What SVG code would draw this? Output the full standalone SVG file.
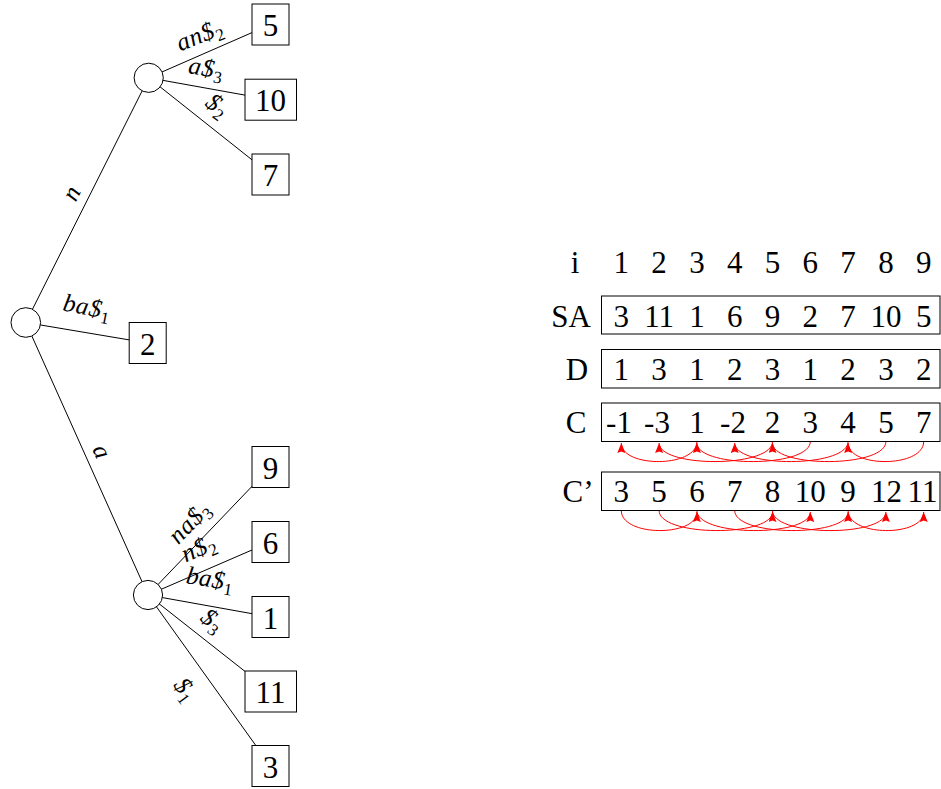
<svg xmlns="http://www.w3.org/2000/svg" width="941" height="789" viewBox="0 0 941 789">
  <style>
    .edge { stroke: #000; stroke-width: 1; fill: none; }
    .node { fill: #fff; stroke: #000; stroke-width: 1; }
    .num { font-family: "Liberation Serif", "Times New Roman", serif; font-size: 31px; text-anchor: middle; fill: #000; }
    .lbl { font-family: "Liberation Serif", "Times New Roman", serif; font-size: 25px; font-style: italic; text-anchor: middle; letter-spacing: 0.5px; fill: #000; }
    .sub { font-size: 17px; font-style: normal; }
    .cell { fill: none; stroke: #000; stroke-width: 1; }
    .link { stroke: #ff0000; stroke-width: 1; fill: none; marker-end: url(#head); }
  </style>
  <defs>
    <marker id="head" viewBox="0 0 10 8" refX="10" refY="4" markerWidth="10" markerHeight="8" markerUnits="userSpaceOnUse" orient="auto">
      <path d="M0,0 L10,4 L0,8 L1.5,4 z" fill="#ff0000"/>
    </marker>
  </defs>

  <!-- tree edges (drawn centre to centre, nodes cover the ends) -->
  <g id="connectors">
    <line class="edge" x1="25.8" y1="322.5" x2="148.7" y2="77.8"/>
    <line class="edge" x1="25.8" y1="322.5" x2="147.7" y2="343"/>
    <line class="edge" x1="25.8" y1="322.5" x2="148" y2="595"/>
    <line class="edge" x1="148.7" y1="77.8" x2="270.5" y2="24.5"/>
    <line class="edge" x1="148.7" y1="77.8" x2="270.5" y2="99.7"/>
    <line class="edge" x1="148.7" y1="77.8" x2="270.5" y2="174.5"/>
    <line class="edge" x1="148" y1="595" x2="270.5" y2="467"/>
    <line class="edge" x1="148" y1="595" x2="270.5" y2="542"/>
    <line class="edge" x1="148" y1="595" x2="270.5" y2="617"/>
    <line class="edge" x1="148" y1="595" x2="270.5" y2="691.5"/>
    <line class="edge" x1="148" y1="595" x2="270.5" y2="766"/>

    <!-- C row links: j -> C[j] -->
    <path class="link" d="M696.9,441.5 C696.9,468 621.3,468 621.3,443"/>
    <path class="link" d="M772.5,441.5 C772.5,468 659.1,468 659.1,443"/>
    <path class="link" d="M810.3,441.5 C810.3,468 696.9,468 696.9,443"/>
    <path class="link" d="M848.1,441.5 C848.1,468 734.7,468 734.7,443"/>
    <path class="link" d="M885.9,441.5 C885.9,468 772.5,468 772.5,443"/>
    <path class="link" d="M923.7,441.5 C923.7,468 848.1,468 848.1,443"/>

    <!-- C' row links: j -> C'[j] -->
    <path class="link" d="M621.3,510.5 C621.3,537 696.9,537 696.9,512"/>
    <path class="link" d="M659.1,510.5 C659.1,537 772.5,537 772.5,512"/>
    <path class="link" d="M696.9,510.5 C696.9,537 810.3,537 810.3,512"/>
    <path class="link" d="M734.7,510.5 C734.7,537 848.1,537 848.1,512"/>
    <path class="link" d="M772.5,510.5 C772.5,537 885.9,537 885.9,512"/>
    <path class="link" d="M848.1,510.5 C848.1,537 923.7,537 923.7,512"/>
  </g>

  <!-- edge labels -->
  <g id="edge-labels">
    <text class="lbl" transform="translate(72.5,193.5) rotate(-63.4)" dy="7">n</text>
    <text class="lbl" transform="translate(87,308) rotate(11)" dy="7">ba$<tspan class="sub" dy="5">1</tspan></text>
    <text class="lbl" transform="translate(101,452) rotate(66)" dy="7">a</text>
    <text class="lbl" transform="translate(200,36) rotate(-22)" dy="7">an$<tspan class="sub" dy="5">2</tspan></text>
    <text class="lbl" transform="translate(206,69) rotate(9.6)" dy="7">a$<tspan class="sub" dy="5">3</tspan></text>
    <text class="lbl" transform="translate(217,106) rotate(37)" dy="7">$<tspan class="sub" dy="5">2</tspan></text>
    <text class="lbl" transform="translate(190,523) rotate(-46)" dy="7">na$<tspan class="sub" dy="5">3</tspan></text>
    <text class="lbl" transform="translate(199,549) rotate(-24)" dy="7">n$<tspan class="sub" dy="5">2</tspan></text>
    <text class="lbl" transform="translate(210,580) rotate(9.4)" dy="7">ba$<tspan class="sub" dy="5">1</tspan></text>
    <text class="lbl" transform="translate(212,621) rotate(38)" dy="7">$<tspan class="sub" dy="5">3</tspan></text>
    <text class="lbl" transform="translate(185,690) rotate(54)" dy="7">$<tspan class="sub" dy="5">1</tspan></text>
  </g>

  <!-- internal nodes -->
  <g id="root"><circle class="node" cx="25.8" cy="322.5" r="14.8"/></g>
  <g id="node-n"><circle class="node" cx="148.7" cy="77.8" r="14.6"/></g>
  <g id="node-a"><circle class="node" cx="148" cy="595" r="14.6"/></g>

  <!-- leaves -->
  <g id="leaf-5"><rect class="node" x="252" y="4" width="37" height="41"/><text class="num" x="270.5" y="36">5</text></g>
  <g id="leaf-10"><rect class="node" x="245" y="79.2" width="51.5" height="41"/><text class="num" x="270.5" y="111">10</text></g>
  <g id="leaf-7"><rect class="node" x="252" y="154" width="37" height="41"/><text class="num" x="270.5" y="186">7</text></g>
  <g id="leaf-2"><rect class="node" x="129.2" y="322.5" width="37" height="41"/><text class="num" x="147.7" y="354.5">2</text></g>
  <g id="leaf-9"><rect class="node" x="252" y="446.5" width="37" height="41"/><text class="num" x="270.5" y="478.5">9</text></g>
  <g id="leaf-6"><rect class="node" x="252" y="521.5" width="37" height="41"/><text class="num" x="270.5" y="553.5">6</text></g>
  <g id="leaf-1"><rect class="node" x="252" y="596.5" width="37" height="41"/><text class="num" x="270.5" y="628.5">1</text></g>
  <g id="leaf-11"><rect class="node" x="245" y="671" width="51.5" height="41"/><text class="num" x="270.5" y="703">11</text></g>
  <g id="leaf-3"><rect class="node" x="252" y="745.5" width="37" height="41"/><text class="num" x="270.5" y="777.5">3</text></g>

  <!-- arrays -->
  <g id="row-i">
    <text class="num" x="575" y="273">i</text>
    <text class="num" x="621.3" y="273">1</text>
    <text class="num" x="659.1" y="273">2</text>
    <text class="num" x="696.9" y="273">3</text>
    <text class="num" x="734.7" y="273">4</text>
    <text class="num" x="772.5" y="273">5</text>
    <text class="num" x="810.3" y="273">6</text>
    <text class="num" x="848.1" y="273">7</text>
    <text class="num" x="885.9" y="273">8</text>
    <text class="num" x="923.7" y="273">9</text>
  </g>
  <g id="row-SA">
    <text class="num" x="571" y="326.5">SA</text>
    <rect class="cell" x="601.5" y="296" width="338.5" height="38"/>
    <text class="num" x="621.3" y="326.5">3</text>
    <text class="num" x="659.1" y="326.5">11</text>
    <text class="num" x="696.9" y="326.5">1</text>
    <text class="num" x="734.7" y="326.5">6</text>
    <text class="num" x="772.5" y="326.5">9</text>
    <text class="num" x="810.3" y="326.5">2</text>
    <text class="num" x="848.1" y="326.5">7</text>
    <text class="num" x="885.9" y="326.5">10</text>
    <text class="num" x="923.7" y="326.5">5</text>
  </g>
  <g id="row-D">
    <text class="num" x="577" y="379.5">D</text>
    <rect class="cell" x="601.5" y="349.5" width="338.5" height="38.5"/>
    <text class="num" x="621.3" y="379.5">1</text>
    <text class="num" x="659.1" y="379.5">3</text>
    <text class="num" x="696.9" y="379.5">1</text>
    <text class="num" x="734.7" y="379.5">2</text>
    <text class="num" x="772.5" y="379.5">3</text>
    <text class="num" x="810.3" y="379.5">1</text>
    <text class="num" x="848.1" y="379.5">2</text>
    <text class="num" x="885.9" y="379.5">3</text>
    <text class="num" x="923.7" y="379.5">2</text>
  </g>
  <g id="row-C">
    <text class="num" x="576" y="433">C</text>
    <rect class="cell" x="601.5" y="403" width="338.5" height="38.5"/>
    <text class="num" x="619" y="433">-1</text>
    <text class="num" x="657" y="433">-3</text>
    <text class="num" x="696.9" y="433">1</text>
    <text class="num" x="733" y="433">-2</text>
    <text class="num" x="772.5" y="433">2</text>
    <text class="num" x="810.3" y="433">3</text>
    <text class="num" x="848.1" y="433">4</text>
    <text class="num" x="885.9" y="433">5</text>
    <text class="num" x="923.7" y="433">7</text>
  </g>
  <g id="row-C-prime">
    <text class="num" x="578" y="502">C’</text>
    <rect class="cell" x="601.5" y="472" width="338.5" height="38.5"/>
    <text class="num" x="621.3" y="502">3</text>
    <text class="num" x="659.1" y="502">5</text>
    <text class="num" x="696.9" y="502">6</text>
    <text class="num" x="734.7" y="502">7</text>
    <text class="num" x="772.5" y="502">8</text>
    <text class="num" x="810.3" y="502">10</text>
    <text class="num" x="848.1" y="502">9</text>
    <text class="num" x="886.5" y="502">12</text>
    <text class="num" x="922.5" y="502">11</text>
  </g>
</svg>
